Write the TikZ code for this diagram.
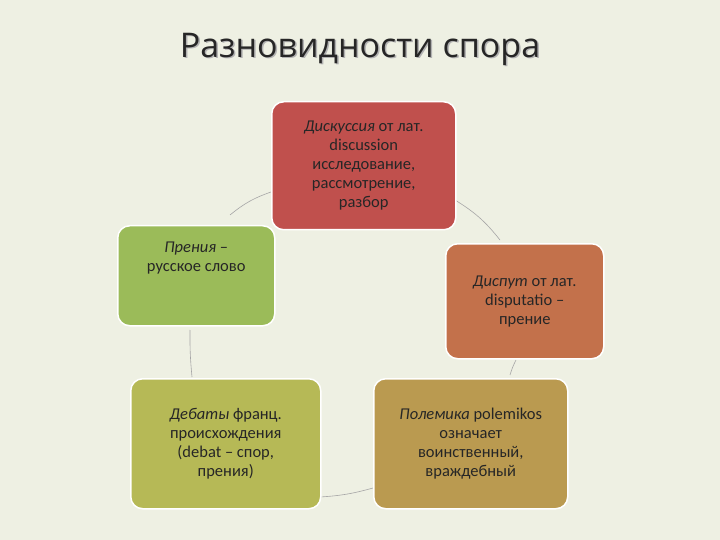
\documentclass[tikz,border=0pt]{standalone}
\usepackage{fontspec}
\setmainfont{Carlito}
\newfontfamily\titlefont{Open Sans}
\begin{document}
\begin{tikzpicture}[x=1pt,y=-1pt,
  box/.style={draw=white,line width=1.5pt,rounded corners=12pt,align=center,inner sep=4pt,font=\fontsize{16.5}{19}\selectfont,text=black!85},
  link/.style={draw=gray!70,line width=0.6pt}]
\definecolor{bg}{HTML}{EEF0E3}
\fill[bg] (0,0) rectangle (720,540);
\useasboundingbox (0,0) rectangle (720,540);
\node[text=gray!60] (shadow) at (361.5,50.5) {\titlefont\fontsize{34}{38}\selectfont Разновидности спора};
\node[text=black!85] (title) at (360,49) {\titlefont\fontsize{34}{38}\selectfont Разновидности спора};
\coordinate (a1) at (230,215);
\coordinate (a2) at (500,240);
\coordinate (a3) at (510,375);
\coordinate (a4) at (320,497);
\coordinate (a5) at (190,330);
\draw[link] (a1) to[bend left=10] (271,192);
\draw[link] (455,200) to[bend left=10] (a2);
\draw[link] (a3) to[bend left=5] (516,360);
\draw[link] (373,488) to[bend left=6] (a4);
\draw[link] (a5) to[bend right=3] (192,377);
\node[box,fill={rgb,255:red,192;green,80;blue,77},minimum width=184pt,minimum height=128pt,anchor=north west] (top) at (271,101) {\textit{Дискуссия} от лат.\\discussion\\исследование,\\рассмотрение,\\разбор};
\node[box,fill={rgb,255:red,195;green,113;blue,75},minimum width=158pt,minimum height=115pt,anchor=north west] (disp) at (445,243) {\textit{Диспут} от лат.\\disputatio --\\прение};
\node[box,fill={rgb,255:red,186;green,154;blue,80},minimum width=194pt,minimum height=130pt,anchor=north west] (pol) at (373,378) {\textit{Полемика} polemikos\\означает\\воинственный,\\враждебный};
\node[box,fill={rgb,255:red,182;green,185;blue,86},minimum width=190pt,minimum height=130pt,anchor=north west] (deb) at (130,378) {\textit{Дебаты} франц.\\происхождения\\(debat -- спор,\\прения)};
\node[box,fill={rgb,255:red,155;green,187;blue,89},minimum width=157pt,minimum height=100pt,anchor=north west] (pren) at (117,225) {\textit{Прения} --\\русское слово\\[20pt]};
\end{tikzpicture}
\end{document}
